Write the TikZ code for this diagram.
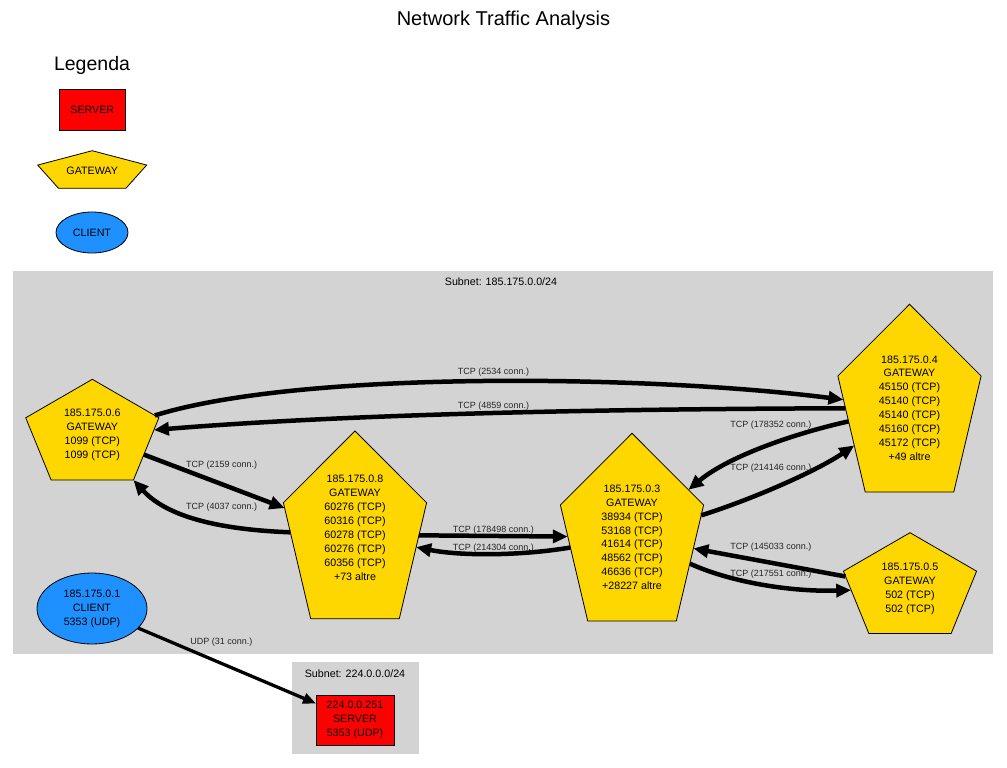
\documentclass[tikz,border=0pt]{standalone}
\usepackage{fontspec}
\setmainfont{Liberation Sans}
\usetikzlibrary{shapes.geometric,arrows.meta}
\definecolor{gwcol}{HTML}{FFD700}
\definecolor{srvcol}{HTML}{FF0000}
\definecolor{clicol}{HTML}{1E90FF}
\definecolor{subcol}{HTML}{D3D3D3}
\begin{document}
\begin{tikzpicture}[x=1pt,y=-1pt,
  ntext/.style={font=\fontsize{10.7}{13.9}\selectfont, align=center, inner sep=0pt},
  elabel/.style={font=\fontsize{9}{11}\selectfont, text=black!85, inner sep=0pt},
  pentbase/.style={regular polygon, regular polygon sides=5, draw=black, line width=0.8pt,
    fill=gwcol, inner sep=0pt, outer sep=0pt, transform shape},
  gwbig/.style={pentbase, minimum size=150.6pt, yscale=1.3785},
  gwsmall/.style={pentbase, minimum size=140pt, yscale=0.7957},
  gwlegend/.style={pentbase, minimum size=114.6pt, yscale=0.363},
  srvbox/.style={rectangle, draw=black, line width=0.8pt, fill=srvcol, inner sep=0pt, outer sep=0pt},
  cliell/.style={ellipse, draw=black, line width=0.8pt, fill=clicol, inner sep=0pt, outer sep=0pt},
  subnetbox/.style={rectangle, fill=subcol, inner sep=0pt, outer sep=0pt, anchor=north west},
  conn/.style={line width=4.5pt, -{Triangle[length=15pt,width=13pt]}},
  udpconn/.style={line width=3.3pt, -{Triangle[length=13pt,width=10.5pt]}},
]
\useasboundingbox (0,0) rectangle (1007,768);
\fill[white] (0,0) rectangle (1007,768);

% title and legend
\node[font=\fontsize{20}{24}\selectfont, inner sep=0pt] (title) at (503.5,20) {Network Traffic Analysis};
\node[font=\fontsize{19.5}{23}\selectfont, inner sep=0pt] (legtitle) at (92,65) {Legenda};
\node[srvbox, minimum width=66pt, minimum height=41pt, ntext] (legsrv) at (92.3,109.5) {SERVER};
\begin{scope}[shift={(92.2,171.5)}]
  \node[gwlegend] (leggw) {};
\end{scope}
\node[ntext] (leggwt) at (92.2,171) {GATEWAY};
\node[cliell, minimum width=72pt, minimum height=41pt, ntext] (legcli) at (92,232.5) {CLIENT};

% subnets
\node[subnetbox, minimum width=980pt, minimum height=383pt] (sn1) at (13,271) {};
\node[ntext] (sn1t) at (501,282) {Subnet: 185.175.0.0/24};
\node[subnetbox, minimum width=126.7pt, minimum height=92pt] (sn2) at (292,662) {};
\node[ntext] (sn2t) at (355,674) {Subnet: 224.0.0.0/24};

% gateway pentagons
\begin{scope}[shift={(92.3,435)}]\node[gwsmall] (g6) {};\end{scope}
\begin{scope}[shift={(355,534.8)}]\node[gwbig] (g8) {};\end{scope}
\begin{scope}[shift={(632,537.1)}]\node[gwbig] (g3) {};\end{scope}
\begin{scope}[shift={(909.5,408.1)}]\node[gwbig] (g4) {};\end{scope}
\begin{scope}[shift={(910,588.4)}]\node[gwsmall] (g5) {};\end{scope}

\node[ntext] (g6t) at (92.3,434.7) {185.175.0.6\\GATEWAY\\1099 (TCP)\\1099 (TCP)};
\node[ntext] (g8t) at (355,527.7) {185.175.0.8\\GATEWAY\\60276 (TCP)\\60316 (TCP)\\60278 (TCP)\\60276 (TCP)\\60356 (TCP)\\+73 altre};
\node[ntext] (g3t) at (632,537.3) {185.175.0.3\\GATEWAY\\38934 (TCP)\\53168 (TCP)\\41614 (TCP)\\48562 (TCP)\\46636 (TCP)\\+28227 altre};
\node[ntext] (g4t) at (909.5,408) {185.175.0.4\\GATEWAY\\45150 (TCP)\\45140 (TCP)\\45140 (TCP)\\45160 (TCP)\\45172 (TCP)\\+49 altre};
\node[ntext] (g5t) at (910,588.7) {185.175.0.5\\GATEWAY\\502 (TCP)\\502 (TCP)};

% client and server
\node[cliell, minimum width=110pt, minimum height=71pt, ntext] (c1) at (92,608.5) {185.175.0.1\\CLIENT\\5353 (UDP)};
\node[srvbox, minimum width=78pt, minimum height=50pt, ntext] (s1) at (355,720) {224.0.0.251\\SERVER\\5353 (UDP)};

% connectors
\draw[conn] (g6) .. controls (300,370) and (650,375) .. (g4);
\draw[conn] (g4) .. controls (600,409) and (350,414) .. (g6);
\draw[conn] (g6) -- (g8);
\draw[conn] (g8) .. controls (230,530) and (170,520) .. (g6);
\draw[conn] (g8) -- (g3);
\draw[conn] (g3) .. controls (520,556) and (460,556) .. (g8);
\draw[conn] (g4) .. controls (800,432) and (730,455) .. (g3);
\draw[conn] (g3) .. controls (750,500) and (815,472) .. (g4);
\draw[conn] (g5) -- (g3);
\draw[conn] (g3) .. controls (730,582) and (790,592) .. (g5);
\draw[udpconn] (c1) -- (s1);

% connector labels
\node[elabel] (l1) at (493.5,372.3) {TCP (2534 conn.)};
\node[elabel] (l2) at (493.5,406) {TCP (4859 conn.)};
\node[elabel] (l3) at (221.7,465) {TCP (2159 conn.)};
\node[elabel] (l4) at (221.7,506.7) {TCP (4037 conn.)};
\node[elabel] (l5) at (493.3,530) {TCP (178498 conn.)};
\node[elabel] (l6) at (493.3,548.3) {TCP (214304 conn.)};
\node[elabel] (l7) at (770.8,425) {TCP (178352 conn.)};
\node[elabel] (l8) at (770.8,468) {TCP (214146 conn.)};
\node[elabel] (l9) at (770.8,547) {TCP (145033 conn.)};
\node[elabel] (l10) at (770.8,573.7) {TCP (217551 conn.)};
\node[elabel] (l11) at (221.3,641.7) {UDP (31 conn.)};
\end{tikzpicture}
\end{document}
